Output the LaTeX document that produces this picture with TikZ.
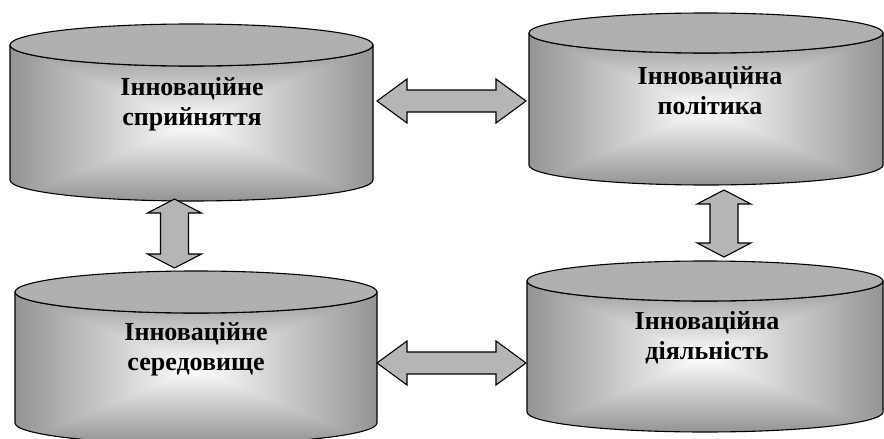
\documentclass[tikz,border=0pt]{standalone}
\usepackage{fontspec}
\setmainfont{Liberation Serif}
\usetikzlibrary{calc}

% Rectangular "from centre" gradient: white in the middle, grey towards the edges
\pgfdeclarefunctionalshading{cylfill}{\pgfpoint{-50bp}{-50bp}}{\pgfpoint{50bp}{50bp}}{}{
  abs exch abs
  2 copy lt {exch} if pop
  25 div dup 1 gt {pop 1} if
  0.42 mul 1 exch sub
  dup dup
}

\definecolor{lidgray}{gray}{0.69}
\definecolor{arrowgray}{gray}{0.71}

\tikzset{
  cylline/.style={line width=1.1pt, line join=round},
  lid/.style={cylline, fill=lidgray},
  label/.style={align=center, font=\bfseries\fontsize{26}{30}\selectfont, inner sep=0pt},
  blockarrow/.style={line width=1.1pt, line join=miter, fill=arrowgray, draw=black},
}

% cylinder: name, centre x, lid centre y, base centre y, x radius, y radius
\newcommand\drum[6]{%
  \shade[shading=cylfill, draw=black, cylline]
    (#2-#5,#3) -- (#2-#5,#4) arc[start angle=180, end angle=0, x radius=#5, y radius=#6]
    -- (#2+#5,#3) arc[start angle=0, end angle=180, x radius=#5, y radius=#6] -- cycle;
  \draw[lid] (#2,#3) ellipse[x radius=#5, y radius=#6];
  \node[minimum width=2*#5*1pt, minimum height={(#4-#3+2*#6)*1pt}, inner sep=0pt]
    (#1) at (#2,{(#3+#4)/2}) {};
}

% horizontal double block arrow between two tip points
\newcommand\hdouble[2]{%
  \draw[blockarrow] let \p1=(#1), \p2=(#2) in
    (\x1,\y1) -- (\x1+30pt,\y1+22pt) -- (\x1+30pt,\y1+11pt) -- (\x2-30pt,\y1+11pt)
    -- (\x2-30pt,\y1+22pt) -- (\x2,\y2) -- (\x2-30pt,\y1-22pt) -- (\x2-30pt,\y1-11pt)
    -- (\x1+30pt,\y1-11pt) -- (\x1+30pt,\y1-22pt) -- cycle;
}
% vertical double block arrow between an upper and a lower tip point
\newcommand\vdouble[2]{%
  \draw[blockarrow] let \p1=(#1), \p2=(#2) in
    (\x1,\y1) -- (\x1+27pt,\y1-14pt) -- (\x1+14pt,\y1-14pt) -- (\x1+14pt,\y2+14pt)
    -- (\x1+27pt,\y2+14pt) -- (\x2,\y2) -- (\x1-27pt,\y2+14pt) -- (\x1-14pt,\y2+14pt)
    -- (\x1-14pt,\y1-14pt) -- (\x1-27pt,\y1-14pt) -- cycle;
}

\begin{document}
\begin{tikzpicture}[x=1pt, y=-1pt]
  \useasboundingbox (0,0) rectangle (884,439);

  % the four cylinders
  \drum{perc}{191.5}{45}{180}{181.5}{21}
  \drum{pol}{706}{33}{165}{177}{20}
  \drum{env}{196}{292}{423}{181}{21}
  \drum{act}{705}{281}{412}{178}{20}

  % captions
  \node[label] (tperc) at (192,104) {Інноваційне\\сприйняття};
  \node[label] (tpol)  at (710,91)  {Інноваційна\\політика};
  \node[label] (tenv)  at (196,349) {Інноваційне\\середовище};
  \node[label] (tact)  at (707,338) {Інноваційна\\діяльність};

  % arrow tips
  \coordinate (a1) at (377,101);
  \coordinate (a2) at (526,101);
  \coordinate (b1) at (377,363);
  \coordinate (b2) at (526,363);
  \coordinate (c1) at (174.5,199);
  \coordinate (c2) at (174.5,268);
  \coordinate (d1) at (724,190);
  \coordinate (d2) at (724,257);

  \hdouble{a1}{a2}
  \hdouble{b1}{b2}
  \vdouble{c1}{c2}
  \vdouble{d1}{d2}
\end{tikzpicture}
\end{document}
